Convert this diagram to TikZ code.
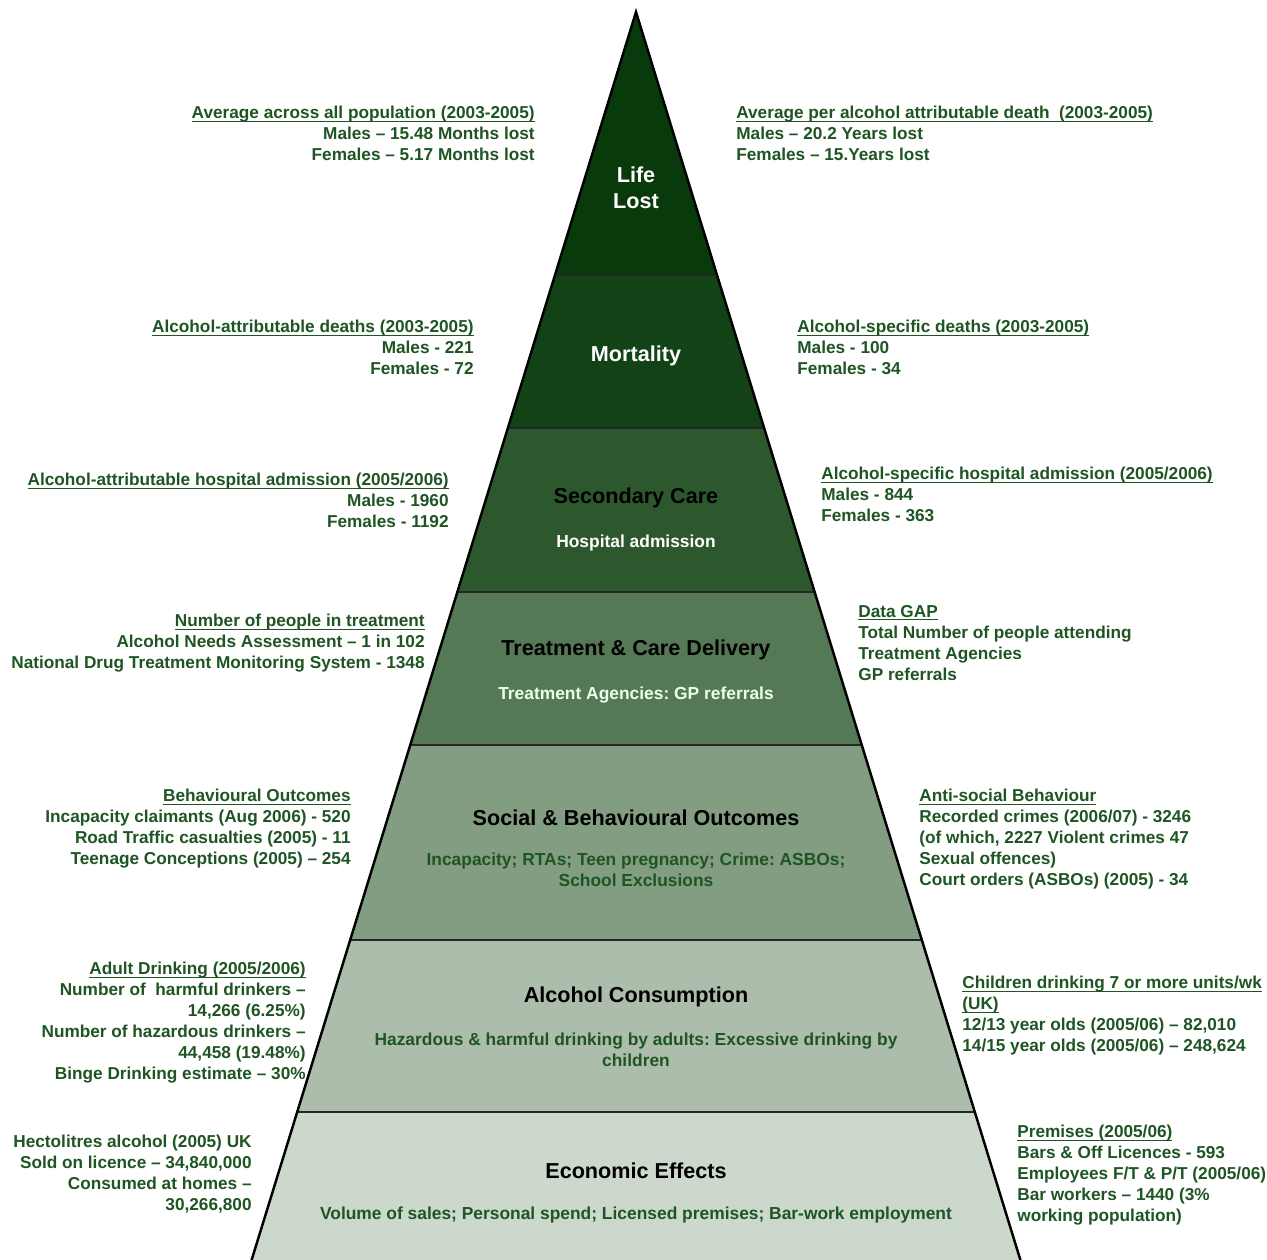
\documentclass[tikz,border=0pt]{standalone}
\usepackage{amsmath}
\usepackage{fontspec}
\setmainfont{Liberation Sans}
\usetikzlibrary{positioning}
\usepackage{xcolor}
\frenchspacing

\definecolor{lifegreen}{RGB}{8,58,12}
\definecolor{mortgreen}{RGB}{18,66,22}
\definecolor{secgreen}{RGB}{45,88,46}
\definecolor{treatgreen}{RGB}{85,121,85}
\definecolor{socgreen}{RGB}{130,157,130}
\definecolor{consgreen}{RGB}{172,189,172}
\definecolor{econgreen}{RGB}{205,216,205}
\definecolor{textgreen}{RGB}{30,85,35}

\newcommand{\ulhead}[1]{\underline{\smash[b]{#1}}}

\tikzset{
  title/.style={font=\fontsize{12.3}{14.7}\selectfont\bfseries, inner sep=0pt, align=center},
  subtitle/.style={font=\fontsize{9.9}{11.9}\selectfont\bfseries, inner sep=0pt, align=center},
  leftnote/.style={font=\fontsize{9.8}{11.9}\selectfont\bfseries, text=textgreen, inner sep=0pt, align=right, anchor=north east},
  rightnote/.style={font=\fontsize{9.8}{11.9}\selectfont\bfseries, text=textgreen, inner sep=0pt, align=left, anchor=north west}
}

\begin{document}
\begin{tikzpicture}[x=0.02cm,y=-0.02cm]
  \useasboundingbox (0,0) rectangle (1267,1260);
  \fill[white] (0,0) rectangle (1267,1260);
  \pgfmathsetmacro{\slope}{0.308}

  % layers of the pyramid
  \foreach \ytop/\ybot/\col in {12/275/lifegreen, 275/428/mortgreen, 428/592/secgreen, 592/745/treatgreen, 745/940/socgreen, 940/1112/consgreen, 1112/1262/econgreen}{
    \pgfmathsetmacro{\lt}{636-\slope*(\ytop-12)}
    \pgfmathsetmacro{\rt}{636+\slope*(\ytop-12)}
    \pgfmathsetmacro{\lb}{636-\slope*(\ybot-12)}
    \pgfmathsetmacro{\rb}{636+\slope*(\ybot-12)}
    \fill[\col] (\lt,\ytop) -- (\rt,\ytop) -- (\rb,\ybot) -- (\lb,\ybot) -- cycle;
  }
  \foreach \yb in {275,428,592,745,940,1112}{
    \pgfmathsetmacro{\lb}{636-\slope*(\yb-12)}
    \pgfmathsetmacro{\rb}{636+\slope*(\yb-12)}
    \draw[black!85,line width=0.9pt] (\lb,\yb) -- (\rb,\yb);
  }
  \pgfmathsetmacro{\lb}{636-\slope*(1262-12)}
  \pgfmathsetmacro{\rb}{636+\slope*(1262-12)}
  \draw[black,line width=1.4pt,line join=miter] (\lb,1262) -- (636,12) -- (\rb,1262);

  % titles inside the layers
  \node[title,text=white] (lifeT) at (636,188) {Life\\Lost};
  \node[title,text=white] (mortT) at (636,356) {Mortality};
  \node[title] (secT) at (636,498) {Secondary Care};
  \node[subtitle,text=white,below=14.6pt of secT] (secS) {Hospital admission};
  \node[title] (treatT) at (636,650) {Treatment \& Care Delivery};
  \node[subtitle,text=white!92!green,below=14.6pt of treatT] (treatS) {Treatment Agencies: GP referrals};
  \node[title] (socT) at (636,818) {Social \& Behavioural Outcomes};
  \node[subtitle,text=textgreen,below=15pt of socT] (socS) {Incapacity; RTAs; Teen pregnancy; Crime: ASBOs;\\School Exclusions};
  \node[title] (consT) at (636,997) {Alcohol Consumption};
  \node[subtitle,text=textgreen,below=14.4pt of consT] (consS) {Hazardous \& harmful drinking by adults: Excessive drinking by\\children};
  \node[title] (econT) at (636,1171) {Economic Effects};
  \node[subtitle,text=textgreen,below=15.6pt of econT] (econS) {Volume of sales; Personal spend; Licensed premises; Bar-work employment};

  % figures on the left
  \node[leftnote] (lifeL) at (535,106) {\ulhead{Average across all population (2003-2005)}\\Males – 15.48 Months lost\\Females – 5.17 Months lost};
  \node[leftnote] (mortL) at (474,320) {\ulhead{Alcohol-attributable deaths (2003-2005)}\\Males - 221\\Females - 72};
  \node[leftnote] (secL) at (449,473) {\ulhead{Alcohol-attributable hospital admission (2005/2006)}\\Males - 1960\\Females - 1192};
  \node[leftnote] (treatL) at (425,614) {\ulhead{Number of people in treatment}\\Alcohol Needs Assessment – 1 in 102\\National Drug Treatment Monitoring System - 1348};
  \node[leftnote] (socL) at (351,789) {\ulhead{Behavioural Outcomes}\\Incapacity claimants (Aug 2006) - 520\\Road Traffic casualties (2005) - 11\\Teenage Conceptions (2005) – 254};
  \node[leftnote] (consL) at (306,962) {\ulhead{Adult Drinking (2005/2006)}\\Number of~ harmful drinkers –\\14,266 (6.25\%)\\Number of hazardous drinkers –\\44,458 (19.48\%)\\Binge Drinking estimate – 30\%};
  \node[leftnote] (econL) at (252,1135) {Hectolitres alcohol (2005) UK\\Sold on licence – 34,840,000\\Consumed at homes –\\30,266,800};

  % figures on the right
  \node[rightnote] (lifeR) at (736,106) {\ulhead{Average per alcohol attributable death~ (2003-2005)}\\Males – 20.2 Years lost\\Females – 15.Years lost};
  \node[rightnote] (mortR) at (797,320) {\ulhead{Alcohol-specific deaths (2003-2005)}\\Males - 100\\Females - 34};
  \node[rightnote] (secR) at (821,467) {\ulhead{Alcohol-specific hospital admission (2005/2006)}\\Males - 844\\Females - 363};
  \node[rightnote] (treatR) at (858,605) {\ulhead{Data GAP}\\Total Number of people attending\\Treatment Agencies\\GP referrals};
  \node[rightnote] (socR) at (919,789) {\ulhead{Anti-social Behaviour}\\Recorded crimes (2006/07) - 3246\\(of which, 2227 Violent crimes 47\\Sexual offences)\\Court orders (ASBOs) (2005) - 34};
  \node[rightnote] (consR) at (962,976) {\ulhead{Children drinking 7 or more units/wk}\\\ulhead{(UK)}\\12/13 year olds (2005/06) – 82,010\\14/15 year olds (2005/06) – 248,624};
  \node[rightnote] (econR) at (1017,1125) {\ulhead{Premises (2005/06)}\\Bars \& Off Licences - 593\\Employees F/T \& P/T (2005/06)\\Bar workers – 1440 (3\%\\working population)};
\end{tikzpicture}
\end{document}
